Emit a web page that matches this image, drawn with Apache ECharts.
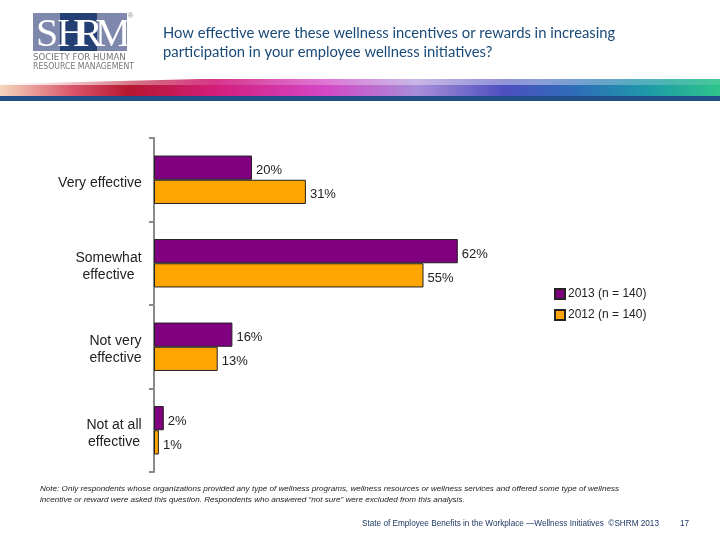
<!DOCTYPE html>
<html><head><meta charset="utf-8">
<script src="https://cdn.jsdelivr.net/npm/echarts@6/dist/echarts.min.js"></script>
<style>html,body{margin:0;padding:0;background:#fff}#c{width:720px;height:540px}</style>
</head><body><div id="c"></div>
<script>
var categories = ['Very effective', 'Somewhat\neffective', 'Not very\neffective', 'Not at all\neffective'];
var seriesNames = ['2013 (n = 140)', '2012 (n = 140)'];
var values2013 = [20, 62, 16, 2];
var values2012 = [31, 55, 13, 1];
var titleLines = ['How effective were these wellness incentives or rewards in increasing', 'participation in your employee wellness initiatives?'];
var noteLines = ['Note: Only respondents whose organizations provided any type of wellness programs, wellness resources or wellness services and offered some type of wellness', 'incentive or reward were asked this question. Respondents who answered \u201cnot sure\u201d were excluded from this analysis.'];
var footerText = 'State of Employee Benefits in the Workplace \u2014Wellness Initiatives  \u00a9SHRM 2013';
var pageNum = '17';

var labelFont = '14px "Liberation Sans", Arial, sans-serif';
var cv = document.createElement('canvas').getContext('2d');
cv.font = labelFont;
var rich = {};
categories.forEach(function (c, i) {
  var w = 0;
  c.split('\n').forEach(function (l) { w = Math.max(w, cv.measureText(l).width); });
  rich['c' + i] = { width: Math.ceil(w), align: 'center', fontSize: 14, lineHeight: 17, color: '#222', fontFamily: '"Liberation Sans", Arial, sans-serif' };
});

var chart = echarts.init(document.getElementById('c'));
var graphics = [
  // logo
  { type: 'rect', shape: { x: 33, y: 13, width: 94, height: 38 }, style: { fill: '#7D88AC' } },
  { type: 'rect', shape: { x: 60, y: 13, width: 37, height: 38 }, style: { fill: '#233F74' } },
  { type: 'text', x: 36, y: 15, style: { text: 'S', font: '40px "Liberation Serif", serif', fill: '#fff' } },
  { type: 'text', x: 57, y: 15, style: { text: 'H', font: '40px "Liberation Serif", serif', fill: '#fff' } },
  { type: 'text', x: 76, y: 15, style: { text: 'R', font: '40px "Liberation Serif", serif', fill: '#fff' } },
  { type: 'text', x: 95, y: 15, style: { text: 'M', font: '40px "Liberation Serif", serif', fill: '#fff' } },
  { type: 'text', x: 128, y: 13, style: { text: '\u00ae', font: '7px sans-serif', fill: '#888' } },
  { type: 'text', x: 33, y: 54, scaleX: 1.2, style: { text: 'SOCIETY FOR HUMAN', font: '8px "DejaVu Sans Condensed", sans-serif', fill: '#777' } },
  { type: 'text', x: 33, y: 62.5, scaleX: 1.08, style: { text: 'RESOURCE MANAGEMENT', font: '8px "DejaVu Sans Condensed", sans-serif', fill: '#777' } },
  // stripe
  { type: 'rect', shape: { x: 0, y: 79, width: 720, height: 17 }, style: { fill: new echarts.graphic.LinearGradient(0, 0, 1, 0, [
    { offset: 0, color: '#F6D7BE' }, { offset: 0.1, color: '#D9566A' }, { offset: 0.18, color: '#B5162E' },
    { offset: 0.3, color: '#D21E7C' }, { offset: 0.45, color: '#D447C6' }, { offset: 0.58, color: '#A88ED8' },
    { offset: 0.7, color: '#4D4FC0' }, { offset: 0.8, color: '#2E6EB8' }, { offset: 0.9, color: '#1E9AA8' }, { offset: 1, color: '#2FC48A' }]) } },
  { type: 'rect', shape: { x: 0, y: 79, width: 720, height: 6 }, style: { fill: new echarts.graphic.LinearGradient(0, 0, 1, 0, [
    { offset: 0, color: 'rgba(255,255,255,0.9)' }, { offset: 0.3, color: 'rgba(255,255,255,0.1)' },
    { offset: 0.55, color: 'rgba(255,255,255,0.35)' }, { offset: 0.75, color: 'rgba(255,255,255,0.4)' }, { offset: 1, color: 'rgba(255,255,255,0.1)' }]) } },
  { type: 'polygon', shape: { points: [[0, 78], [240, 78], [0, 84]] }, style: { fill: '#fff' } },
  { type: 'rect', shape: { x: 0, y: 96, width: 720, height: 5 }, style: { fill: '#1F4F86' } },
  // title
  { type: 'text', x: 163, y: 26, style: { text: titleLines[0], font: '14.8px Lato, sans-serif', fill: '#1A4A78' } },
  { type: 'text', x: 163, y: 45, style: { text: titleLines[1], font: '14.8px Lato, sans-serif', fill: '#1A4A78' } },
  // note
  { type: 'text', x: 40, y: 485, style: { text: noteLines[0], font: 'italic 8.1px "Liberation Sans", sans-serif', fill: '#222' } },
  { type: 'text', x: 40, y: 496, style: { text: noteLines[1], font: 'italic 8.1px "Liberation Sans", sans-serif', fill: '#222' } },
  // footer
  { type: 'text', x: 362, y: 520, style: { text: footerText, font: '8.2px "Liberation Sans", sans-serif', fill: '#1F3864' } },
  { type: 'text', x: 680, y: 520, style: { text: pageNum, font: '8.2px "Liberation Sans", sans-serif', fill: '#1F3864' } }
];

chart.setOption({
  animation: false,
  textStyle: { fontFamily: '"Liberation Sans", Arial, sans-serif' },
  grid: { left: 154, top: 138, width: 490, height: 334 },
  legend: {
    orient: 'vertical', left: 549, top: 283, itemWidth: 10, itemHeight: 10, itemGap: 9,
    icon: 'rect', textStyle: { fontSize: 12, color: '#222', padding: [0, 0, 0, -2] }, data: seriesNames
  },
  xAxis: { type: 'value', min: 0, max: 100, show: false },
  yAxis: {
    type: 'category', inverse: true, data: categories,
    axisLine: { lineStyle: { color: '#8A8A8A', width: 2 } },
    axisTick: { show: true, length: 5, lineStyle: { color: '#8A8A8A', width: 2 } },
    axisLabel: {
      margin: 12, padding: [6, 0, 0, 0],
      formatter: function (v, i) {
        return v.split('\n').map(function (l) { return '{c' + i + '|' + l + '}'; }).join('\n');
      },
      rich: rich
    }
  },
  series: [
    { name: seriesNames[0], type: 'bar', data: values2013, barGap: '0%', barCategoryGap: '42%',
      itemStyle: { color: '#800080', borderColor: '#222', borderWidth: 1 },
      label: { show: true, position: 'right', distance: 4, offset: [0, 3], formatter: '{c}%', fontSize: 13, color: '#222' } },
    { name: seriesNames[1], type: 'bar', data: values2012, barGap: '0%', barCategoryGap: '42%',
      itemStyle: { color: '#FFA500', borderColor: '#222', borderWidth: 1 },
      label: { show: true, position: 'right', distance: 4, offset: [0, 3], formatter: '{c}%', fontSize: 13, color: '#222' } }
  ],
  graphic: graphics
});
</script></body></html>
